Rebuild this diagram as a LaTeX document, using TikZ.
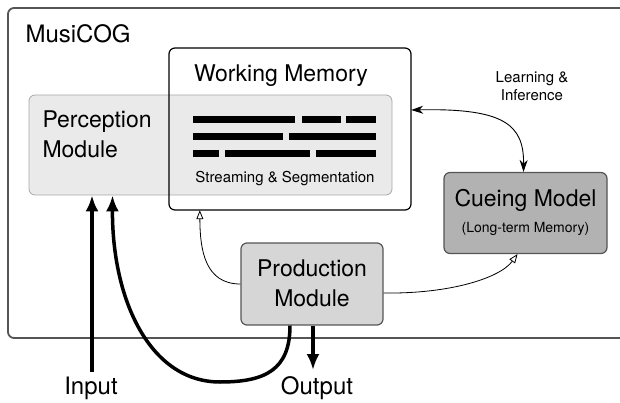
\documentclass[tikz,border=0pt]{standalone}
\usepackage{fontspec}
\setsansfont{TeX Gyre Heros}
\usetikzlibrary{arrows.meta}
\definecolor{framegray}{HTML}{555555}
\definecolor{percfill}{HTML}{E8E8E8}
\definecolor{percline}{HTML}{A8A8A8}
\definecolor{prodfill}{HTML}{D6D6D6}
\definecolor{cuefill}{HTML}{B2B2B2}
\newcommand*{\bigtxt}{\fontsize{23}{27}\selectfont}
\newcommand*{\midtxt}{\fontsize{15}{18}\selectfont}
\newcommand*{\smalltxt}{\fontsize{14}{17}\selectfont}
\tikzset{
    box/.style   = {rounded corners=6pt, inner sep=0pt},
    bar/.style   = {fill=black, draw=none},
    feed/.style  = {line width=3.5pt, -{Latex[length=16pt,width=13pt]}},
    thin/.style  = {line width=0.8pt, -{Triangle[open,length=9pt,width=7pt]}},
    learn/.style = {line width=0.9pt, {Stealth[length=12pt,width=8pt]}-{Stealth[length=12pt,width=8pt]}},
}

\begin{document}
\begin{tikzpicture}[x=1pt, y=-1pt, font=\sffamily]
    \useasboundingbox (0,0) rectangle (620,403);
    \node [box, draw=framegray, line width=1.8pt, minimum width=630pt, minimum height=330pt] (musicog) at (323,173) {};
    \node [anchor=base west] (musicoglbl) at (22,43) {\fontsize{24}{28}\selectfont MusiCOG};

    % working memory and perception
    \node [box, fill=white, minimum width=242pt, minimum height=162pt] (wm) at (290,129) {};
    \node [box, fill=percfill, fill opacity=0.9, draw=percline, line width=0.8pt, minimum width=363pt, minimum height=100pt] (perc) at (210.5,145) {};
    \node [box, draw=black, line width=1.2pt, minimum width=242pt, minimum height=162pt] (wmframe) at (290,129) {};
    \node [anchor=base] (wmlbl) at (281,82) {\bigtxt Working Memory};
    \node [anchor=base west] (perclbl) at (39,128) {\bigtxt Perception};
    \node [anchor=base west] (perclbltwo) at (39,158) {\bigtxt Module};
    \foreach \y/\segs in {119.5/{193/295,302/341,346/376},
                          136.5/{193/283,289/376},
                          153.5/{193/219,225/310,316/376}}
        \foreach \xa/\xb in \segs
            \fill [bar] (\xa,\y-3.5) rectangle (\xb,\y+3.5);
    \node [anchor=base] (streamlbl) at (285,183) {\midtxt Streaming \& Segmentation};

    % cueing model
    \node [box, fill=cuefill, draw=framegray, line width=1.2pt, minimum width=163pt, minimum height=81pt] (cue) at (525.5,213) {};
    \node [anchor=base] (cuelbl) at (525.5,207) {\bigtxt Cueing Model};
    \node [anchor=base] (cuelbltwo) at (525.5,233) {\smalltxt (Long-term Memory)};

    % production
    \node [box, fill=prodfill, draw=framegray, line width=1.2pt, minimum width=142pt, minimum height=82pt] (prod) at (312,284) {};
    \node [anchor=base] (prodlbl) at (312,276) {\bigtxt Production};
    \node [anchor=base] (prodlbltwo) at (312,306) {\bigtxt Module};

    \node [align=center, font=\sffamily\midtxt] (learnlbl) at (532,86) {Learning \&\\Inference};

    % in and out
    \node [anchor=base] (inlbl) at (91,394) {\fontsize{24}{28}\selectfont Input};
    \node [anchor=base] (outlbl) at (317,394) {\fontsize{24}{28}\selectfont Output};
    \coordinate (inend) at (92,372);
    \coordinate (outend) at (313,370);
    \coordinate (loopbot) at (220,382);

    \draw [feed] (inend) -- (inend |- perc.south);
    \draw [feed] ([xshift=-22pt]prod.south) .. controls (290,370) and (265,382) .. (loopbot)
                 .. controls (150,382) and (112,300) .. ([xshift=-98pt]perc.south);
    \draw [feed] (prod.south -| outend) -- (outend);
    \draw [thin] (prod.west) .. controls (205,284) and (200,250) .. ([xshift=31pt]wm.south west);
    \draw [thin] ([yshift=-9pt]prod.east) .. controls (450,294) and (500,278) .. ([xshift=-8pt]cue.south);
    \draw [learn] ([yshift=19pt]wm.east) .. controls (505,108) and (524,125) .. ([xshift=-2pt]cue.north);
\end{tikzpicture}
\end{document}
